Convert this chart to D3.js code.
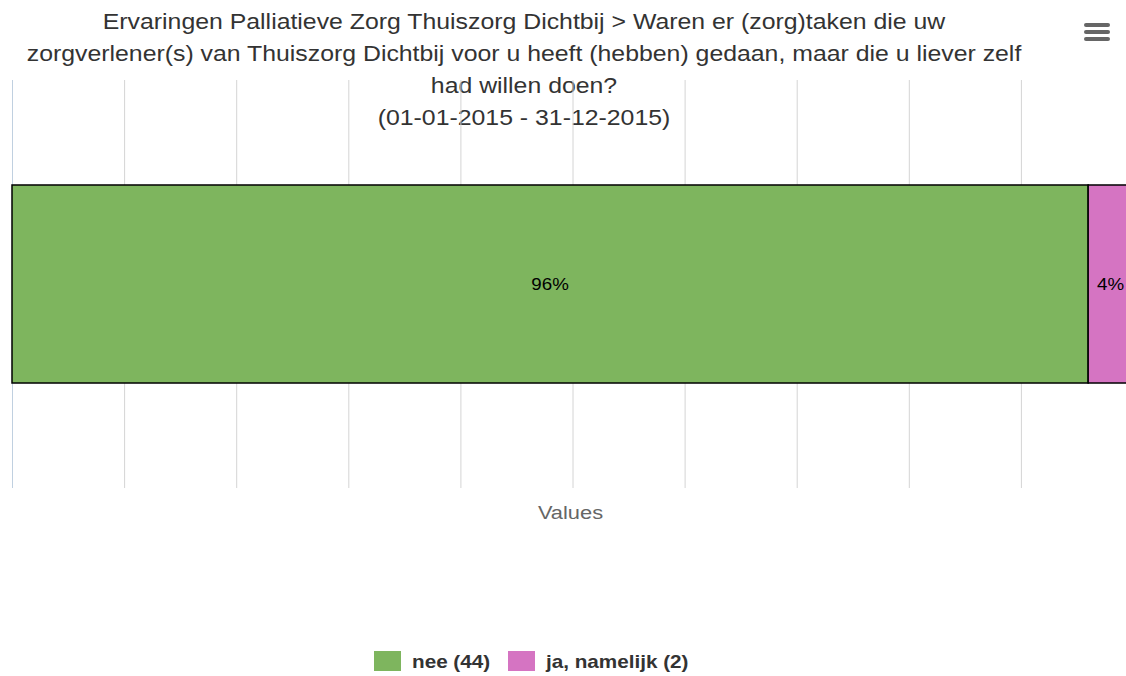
<!DOCTYPE html>
<html>
<head>
<meta charset="utf-8">
<script src="https://cdn.jsdelivr.net/npm/d3@7"></script>
<style>
  body { margin: 0; background: #fff; }
  svg { display: block; font-family: "Liberation Sans", Arial, sans-serif; }
</style>
</head>
<body>
<svg id="chart" width="1126" height="676"></svg>
<script>
// data
const titleLines = [
  "Ervaringen Palliatieve Zorg Thuiszorg Dichtbij > Waren er (zorg)taken die uw",
  "zorgverlener(s) van Thuiszorg Dichtbij voor u heeft (hebben) gedaan, maar die u liever zelf",
  "had willen doen?",
  "(01-01-2015 - 31-12-2015)"
];
const seriesNames = ["nee (44)", "ja, namelijk (2)"];
const seriesPercent = [96, 4];
const seriesColors = ["#7eb55e", "#d574c2"];
const categories = ["Values"];
const xTicks = [0, 10, 20, 30, 40, 50, 60, 70, 80, 90, 100];

// the text in the picture is a bit stretched sideways
const sx = 1.15;
const place = (x, y) => "translate(" + x + "," + y + ") scale(" + sx + ",1)";

const svg = d3.select("#chart");
const plot = { left: 12, right: 1133, top: 80, bottom: 488 };

// title
svg.append("g").selectAll("text").data(titleLines).enter().append("text")
  .attr("transform", (d, i) => place(524, 29 + i * 32))
  .attr("text-anchor", "middle")
  .attr("fill", "#333333")
  .style("font-size", "21.6px")
  .text(d => d);

const xScale = d3.scaleLinear().domain([0, 100]).range([plot.left, plot.right]);
const yScale = d3.scaleBand().domain(categories).range([plot.top, plot.bottom]).padding(0.3465);

// grid lines
svg.append("g").call(d3.axisBottom(xScale).tickValues(xTicks).tickSize(plot.bottom - plot.top).tickFormat(""))
  .attr("transform", "translate(0," + plot.top + ")")
  .call(g => g.select(".domain").remove())
  .call(g => g.selectAll("line").attr("stroke", "#d4d4d4"));

// axis line on the left
svg.append("line")
  .attr("x1", plot.left + 0.5).attr("x2", plot.left + 0.5)
  .attr("y1", plot.top).attr("y2", plot.bottom)
  .attr("stroke", "#c0d0e0");

// stack the bars
let starts = [];
let acc = 0;
seriesPercent.forEach(v => { starts.push(acc); acc += v; });

const bars = svg.append("g");
bars.selectAll("rect").data(seriesPercent).enter().append("rect")
  .attr("x", (d, i) => xScale(starts[i]))
  .attr("y", yScale("Values"))
  .attr("width", (d, i) => xScale(starts[i] + d) - xScale(starts[i]))
  .attr("height", yScale.bandwidth())
  .attr("fill", (d, i) => seriesColors[i])
  .attr("stroke", "#000")
  .attr("stroke-width", 1.5);

bars.selectAll("text").data(seriesPercent).enter().append("text")
  .attr("transform", (d, i) => place(xScale(starts[i] + d / 2), yScale("Values") + yScale.bandwidth() / 2 + 6))
  .attr("text-anchor", "middle")
  .attr("fill", "#000")
  .style("font-size", "16.3px")
  .text(d => d + "%");

// axis title
svg.append("text")
  .attr("transform", place((plot.left + plot.right) / 2 - 2, 519))
  .attr("text-anchor", "middle")
  .attr("fill", "#666666")
  .style("font-size", "19px")
  .text("Values");

// legend
const legend = svg.append("g");
const legendX = [374, 508];
seriesNames.forEach((name, i) => {
  legend.append("rect")
    .attr("x", legendX[i]).attr("y", 651)
    .attr("width", 27).attr("height", 20)
    .attr("fill", seriesColors[i]);
  legend.append("text")
    .attr("transform", place(legendX[i] + 38, 668))
    .attr("fill", "#333333")
    .style("font-size", "18px")
    .style("font-weight", "bold")
    .text(name);
});

// menu icon
svg.append("g").selectAll("line").data([0, 1, 2]).enter().append("line")
  .attr("x1", 1086).attr("x2", 1108)
  .attr("y1", d => 25 + d * 7).attr("y2", d => 25 + d * 7)
  .attr("stroke", "#666666")
  .attr("stroke-width", 4)
  .attr("stroke-linecap", "round");
</script>
</body>
</html>
